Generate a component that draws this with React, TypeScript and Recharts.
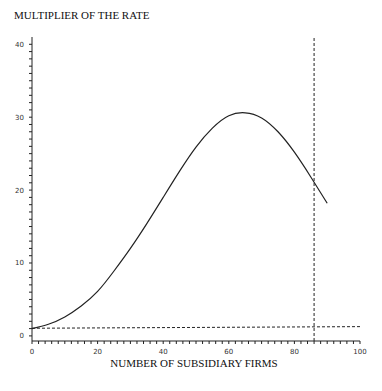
import { LineChart, Line, XAxis, YAxis, ReferenceLine } from "recharts";

// values
const firms = [0, 5, 10, 15, 20, 25, 30, 35, 40, 45, 50, 55, 60, 65, 70, 75, 80, 85, 90];
const multiplier = [1.0, 1.6, 2.6, 4.1, 6.1, 8.9, 12.0, 15.4, 19.0, 22.6, 25.9, 28.5, 30.2, 30.6, 29.9, 28.0, 25.2, 21.8, 18.2];

const baseFirms = [0, 100];
const baseValues = [1.05, 1.27];

const cutoff = 86;

const xTicks = Array.from({ length: 51 }, (_, i) => i * 2);
const yTicks = Array.from({ length: 41 }, (_, i) => i);

const curveData = firms.map((x, i) => ({ x, y: multiplier[i] }));
const baseData = baseFirms.map((x, i) => ({ x, y: baseValues[i] }));

const ink = "#222";
const tickFont = { fontSize: 7, fill: "#333", fontFamily: "DejaVu Sans" };

export default function App() {
  return (
    <div style={{ position: "absolute", left: 0, top: 0, width: 382, height: 391, background: "#fff" }}>
      <div style={{ position: "absolute", left: 14, top: 9, fontFamily: "Liberation Serif", fontSize: 11, color: "#111", whiteSpace: "nowrap" }}>
        MULTIPLIER OF THE RATE
      </div>
      <LineChart width={382} height={391} data={curveData} margin={{ top: 37, right: 22, bottom: 30, left: 0 }}>
        <XAxis
          type="number"
          dataKey="x"
          domain={[0, 100]}
          ticks={xTicks}
          interval={0}
          tickFormatter={(v: number) => (v % 20 === 0 ? String(v) : "")}
          tick={tickFont}
          tickSize={3}
          tickMargin={5}
          stroke={ink}
          height={20}
          allowDataOverflow
        />
        <YAxis
          type="number"
          domain={[-0.7, 41]}
          ticks={yTicks}
          interval={0}
          tickFormatter={(v: number) => (v % 10 === 0 ? String(v) : "")}
          tick={tickFont}
          tickSize={3}
          tickMargin={5}
          stroke={ink}
          width={32}
          allowDataOverflow
        />
        <ReferenceLine x={cutoff} stroke={ink} strokeDasharray="3 2" />
        <Line data={baseData} dataKey="y" type="linear" stroke={ink} strokeWidth={1} strokeDasharray="3 2" dot={false} isAnimationActive={false} />
        <Line dataKey="y" type="natural" stroke={ink} strokeWidth={1.2} dot={false} isAnimationActive={false} />
      </LineChart>
      <div style={{ position: "absolute", left: 0, width: 382, top: 357, textAlign: "center", fontFamily: "Liberation Serif", fontSize: 11, color: "#111", paddingLeft: 6, boxSizing: "border-box" }}>
        NUMBER OF SUBSIDIARY FIRMS
      </div>
    </div>
  );
}
